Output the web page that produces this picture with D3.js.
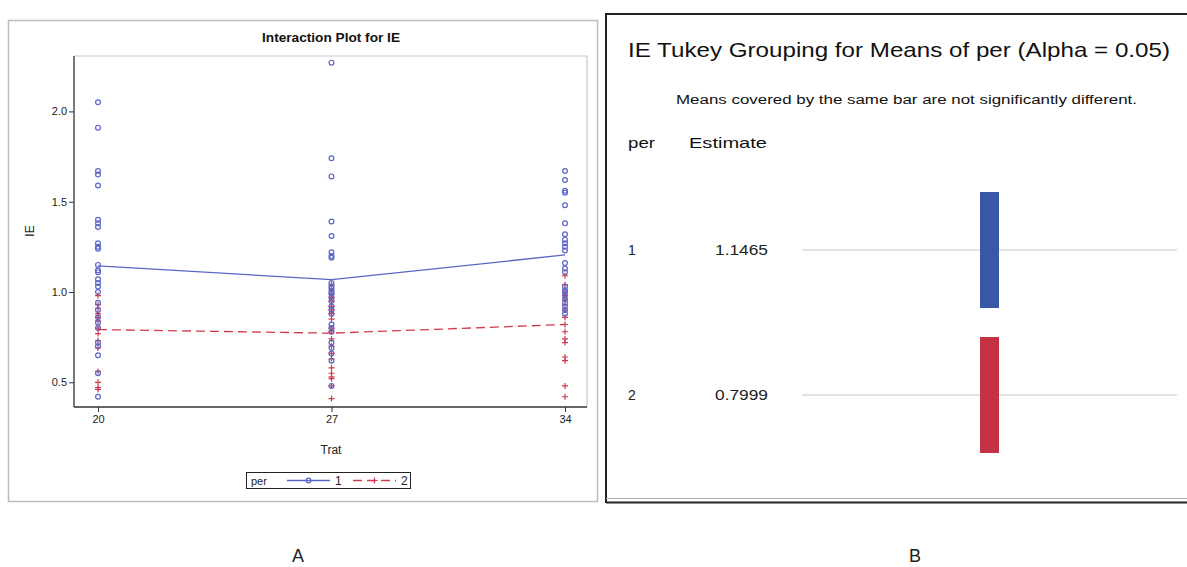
<!DOCTYPE html>
<html>
<head>
<meta charset="utf-8">
<script src="https://cdn.jsdelivr.net/npm/d3@7"></script>
<style>
  html, body { margin: 0; padding: 0; background: #fff; }
  svg { display: block; }
  text { font-family: "Liberation Sans Narrow", "Liberation Sans", Arial, sans-serif; }
</style>
</head>
<body>
<svg id="chart" width="1187" height="567"></svg>
<script>
// ---------- DATA ----------
const trats = [20, 27, 34];
const perLevels = ["1", "2"];
const yTicks = [0.5, 1.0, 1.5, 2.0];

// observations (IE) for per = 1 at Trat 20, 27, 34
const per1_t20 = [2.05, 1.91, 1.67, 1.65, 1.59, 1.40, 1.38, 1.36, 1.27, 1.25, 1.24, 1.15, 1.12, 1.11, 1.07, 1.05, 1.03, 1.00, 0.94, 0.90, 0.86, 0.83, 0.80, 0.72, 0.70, 0.65, 0.55, 0.42];
const per1_t27 = [2.27, 1.74, 1.64, 1.39, 1.31, 1.22, 1.20, 1.19, 1.05, 1.03, 1.02, 1.00, 0.99, 0.97, 0.95, 0.92, 0.90, 0.88, 0.82, 0.80, 0.78, 0.72, 0.69, 0.66, 0.62, 0.48];
const per1_t34 = [1.67, 1.62, 1.56, 1.55, 1.48, 1.38, 1.32, 1.29, 1.27, 1.25, 1.23, 1.16, 1.13, 1.11, 1.03, 1.01, 1.00, 0.98, 0.96, 0.94, 0.92, 0.90, 0.88];
// observations for per = 2
const per2_t20 = [0.98, 0.93, 0.91, 0.88, 0.86, 0.84, 0.80, 0.77, 0.73, 0.69, 0.56, 0.50, 0.47, 0.46];
const per2_t27 = [1.04, 1.01, 0.99, 0.97, 0.95, 0.92, 0.90, 0.88, 0.85, 0.80, 0.78, 0.74, 0.70, 0.66, 0.63, 0.58, 0.55, 0.53, 0.52, 0.48, 0.41];
const per2_t34 = [1.09, 1.04, 1.00, 0.98, 0.96, 0.93, 0.90, 0.86, 0.82, 0.78, 0.74, 0.72, 0.64, 0.62, 0.48, 0.42];

// cell means (interaction lines)
const mean_per1 = [1.145, 1.068, 1.205];
const mean_per2 = [0.792, 0.772, 0.820];

// Tukey grouping panel
const tukeyPer = ["1", "2"];
const tukeyEstimate = ["1.1465", "0.7999"];
const tukeyGroup = ["A", "B"];

// ---------- STYLE ----------
const blue = "#5a66c6", red = "#d03a4c";
const barBlue = "#3a56a6", barRed = "#c43344";

const svg = d3.select("#chart");

// ================= PANEL A =================
svg.append("rect").attr("x", 8.5).attr("y", 20.5).attr("width", 589).attr("height", 481)
  .attr("fill", "none").attr("stroke", "#bdbdbd").attr("stroke-width", 1.5);

const L = {left: 74, right: 587, top: 56, bottom: 407};

const x = d3.scaleLinear().domain([20, 34]).range([98, 565]);
const y = d3.scaleLinear().domain([1.0, 2.0]).range([292, 111.4]);

// frame top/right
svg.append("path").attr("d", `M${L.left},${L.top}H${L.right}V${L.bottom}`)
  .attr("fill", "none").attr("stroke", "#c8c8c8").attr("stroke-width", 1.2);

// y axis
const yAxis = svg.append("g").attr("transform", `translate(${L.left},0)`)
  .call(d3.axisLeft(y).tickValues(yTicks).tickFormat(d3.format(".1f")).tickSize(5).tickPadding(2));
yAxis.select(".domain").attr("d", `M0,${L.top}V${L.bottom}`).attr("stroke", "#333").attr("stroke-width", 1.3);
yAxis.selectAll("text").attr("font-size", 11).attr("fill", "#222");
yAxis.selectAll("line").attr("stroke", "#333");

// x axis
const xAxis = svg.append("g").attr("transform", `translate(0,${L.bottom})`)
  .call(d3.axisBottom(x).tickValues(trats).tickFormat(d3.format("d")).tickSize(5).tickPadding(3));
xAxis.select(".domain").attr("d", `M${L.left},0H${L.right}`).attr("stroke", "#333").attr("stroke-width", 1.3);
xAxis.selectAll("text").attr("font-size", 11).attr("fill", "#222");
xAxis.selectAll("line").attr("stroke", "#333");

// titles
svg.append("text").attr("x", 331).attr("y", 42).attr("text-anchor", "middle")
  .attr("font-size", 12).attr("font-weight", "bold").attr("fill", "#111")
  .attr("textLength", 138).attr("lengthAdjust", "spacingAndGlyphs").text("Interaction Plot for IE");
svg.append("text").attr("x", 331).attr("y", 454).attr("text-anchor", "middle")
  .attr("font-size", 12).attr("fill", "#222").text("Trat");
svg.append("text").attr("transform", "translate(34,231) rotate(-90)").attr("text-anchor", "middle")
  .attr("font-size", 12).attr("fill", "#222").text("IE");

// points
const obs1 = [per1_t20, per1_t27, per1_t34];
const obs2 = [per2_t20, per2_t27, per2_t34];
const pts1 = obs1.flatMap((arr, i) => arr.map(v => ({t: trats[i], v})));
const pts2 = obs2.flatMap((arr, i) => arr.map(v => ({t: trats[i], v})));

const crossPath = (cx, cy, s) => `M${cx - s},${cy}H${cx + s}M${cx},${cy - s}V${cy + s}`;

svg.append("g").selectAll("path").data(pts2).join("path")
  .attr("d", d => crossPath(x(d.t), y(d.v), 3))
  .attr("stroke", red).attr("stroke-width", 1.2).attr("fill", "none");
svg.append("g").selectAll("circle").data(pts1).join("circle")
  .attr("cx", d => x(d.t)).attr("cy", d => y(d.v)).attr("r", 2.4)
  .attr("fill", "none").attr("stroke", blue).attr("stroke-width", 1.2);

// mean lines
const line = d3.line().x((d, i) => x(trats[i])).y(d => y(d));
svg.append("path").attr("d", line(mean_per1)).attr("fill", "none")
  .attr("stroke", blue).attr("stroke-width", 1.3);
svg.append("path").attr("d", line(mean_per2)).attr("fill", "none")
  .attr("stroke", red).attr("stroke-width", 1.3).attr("stroke-dasharray", "9,5");

// legend
const lg = svg.append("g");
lg.append("rect").attr("x", 246.5).attr("y", 472.5).attr("width", 164).attr("height", 16)
  .attr("fill", "#fff").attr("stroke", "#222").attr("stroke-width", 1);
lg.append("text").attr("x", 251).attr("y", 485).attr("font-size", 11).attr("fill", "#222").text("per");
lg.append("line").attr("x1", 287).attr("x2", 330).attr("y1", 480.5).attr("y2", 480.5).attr("stroke", blue).attr("stroke-width", 1.3);
lg.append("circle").attr("cx", 308.5).attr("cy", 480.5).attr("r", 2.4).attr("fill", "none").attr("stroke", blue).attr("stroke-width", 1.2);
lg.append("text").attr("x", 335).attr("y", 485).attr("font-size", 12).attr("fill", "#222").text(perLevels[0]);
lg.append("line").attr("x1", 353).attr("x2", 396).attr("y1", 480.5).attr("y2", 480.5).attr("stroke", red).attr("stroke-width", 1.3).attr("stroke-dasharray", "9,5");
lg.append("path").attr("d", crossPath(374.5, 480.5, 3)).attr("stroke", red).attr("stroke-width", 1.2);
lg.append("text").attr("x", 401).attr("y", 485).attr("font-size", 12).attr("fill", "#222").text(perLevels[1]);

// ================= PANEL B =================
svg.append("path").attr("d", "M606,503V14H1187").attr("fill", "none").attr("stroke", "#222").attr("stroke-width", 2);
svg.append("line").attr("x1", 606).attr("x2", 1187).attr("y1", 502.5).attr("y2", 502.5).attr("stroke", "#222").attr("stroke-width", 2);
svg.append("line").attr("x1", 606).attr("x2", 1187).attr("y1", 498.5).attr("y2", 498.5).attr("stroke", "#aaa").attr("stroke-width", 1);

svg.append("text").attr("x", 628).attr("y", 57).attr("font-size", 21).attr("fill", "#111")
  .attr("textLength", 542).attr("lengthAdjust", "spacingAndGlyphs")
  .text("IE Tukey Grouping for Means of per (Alpha = 0.05)");
svg.append("text").attr("x", 676).attr("y", 104).attr("font-size", 12).attr("fill", "#111")
  .attr("textLength", 461).attr("lengthAdjust", "spacingAndGlyphs")
  .text("Means covered by the same bar are not significantly different.");
svg.append("text").attr("x", 628).attr("y", 148).attr("font-size", 15).attr("fill", "#111")
  .attr("textLength", 27).attr("lengthAdjust", "spacingAndGlyphs").text("per");
svg.append("text").attr("x", 689).attr("y", 148).attr("font-size", 15).attr("fill", "#111")
  .attr("textLength", 78).attr("lengthAdjust", "spacingAndGlyphs").text("Estimate");

const rowY = d3.scalePoint().domain(tukeyPer).range([250, 395]);
const groupX = d3.scaleBand().domain(["A"]).range([980, 999]);
const barColors = [barBlue, barRed];

const rows = tukeyPer.map((p, i) => ({p, est: tukeyEstimate[i], g: tukeyGroup[i], c: barColors[i]}));
const rg = svg.append("g").selectAll("g").data(rows).join("g");
rg.append("line").attr("x1", 802).attr("x2", 1177)
  .attr("y1", d => rowY(d.p)).attr("y2", d => rowY(d.p))
  .attr("stroke", "#e3e3e3").attr("stroke-width", 2);
rg.append("text").attr("x", 628).attr("y", d => rowY(d.p) + 5).attr("font-size", 14).attr("fill", "#222").text(d => d.p);
rg.append("text").attr("x", 715).attr("y", d => rowY(d.p) + 5).attr("font-size", 14).attr("fill", "#222")
  .attr("textLength", 53).attr("lengthAdjust", "spacingAndGlyphs").text(d => d.est);
rg.append("rect").attr("x", groupX("A")).attr("width", groupX.bandwidth())
  .attr("y", d => rowY(d.p) - 58).attr("height", 116).attr("fill", d => d.c);

// panel labels
svg.append("text").attr("x", 298).attr("y", 562).attr("text-anchor", "middle")
  .attr("font-family", "Liberation Sans, Arial").attr("font-size", 18).attr("fill", "#222").text("A");
svg.append("text").attr("x", 915).attr("y", 562).attr("text-anchor", "middle")
  .attr("font-family", "Liberation Sans, Arial").attr("font-size", 18).attr("fill", "#222").text("B");
</script>
</body>
</html>
